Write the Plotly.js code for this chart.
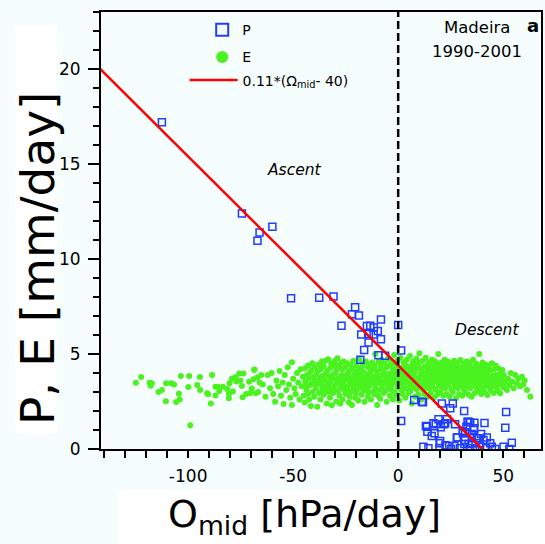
<!DOCTYPE html>
<html><head><meta charset="utf-8">
<script src="https://cdn.plot.ly/plotly-3.0.1.min.js"></script>
<style>html,body{margin:0;padding:0;background:#f6fdfd}</style>
</head><body><div id="chart" style="width:545px;height:544px"></div>
<script>
// ---- P (precipitation) points ----
const pX = [-112.5,-74.4,-66.0,-67.0,-59.9,
  -51.0,-37.6,-30.8,-20.5,-22.0,-18.7,-27.0,-8.2,0.0,-14.9,-13.3,-11.6,-9.7,-17.6,-14.0,-11.7,-8.2,-14.1,-16.2,1.4,-9.4,-6.2,-18.0,
  7.6,11.3,20.8,26.0,24.8,31.4,51.4,1.4,19.2,23.2,13.7,16.8,22.4,20.3,27.1,33.0,34.3,36.3,41.1,51.0,32.5,36.2,
  13.9,17.3,16.0,13.2,30.8,31.9,28.2,30.8,35.1,39.5,37.5,40.6,42.2,35.1,38.2,20.0,19.7,31.9,33.5,35.1,38.7,43.8,54.1,
  12.0,14.4,19.7,24.3,25.2,29.5,34.3,36.7,39.0,41.9,44.6,46.2,50.2,52.9,36.0,33.5,17.9,21.9,27.9,31.5,26.8,22.5,11.8];
const pY = [17.2,12.4,11.4,10.96,11.7,
  7.93,7.96,8.02,7.46,7.09,7.02,6.49,6.82,6.53,6.47,6.49,6.39,6.21,6.02,6.05,6.02,5.77,5.61,5.21,5.18,4.93,4.91,4.7,
  2.58,2.49,2.4,2.4,2.14,2.0,1.95,1.47,1.56,1.56,1.17,1.35,1.35,1.14,1.3,1.44,1.39,1.38,1.37,1.12,1.17,1.09,
  0.91,0.83,0.68,1.21,0.96,0.88,0.61,0.83,0.79,0.79,0.56,0.47,0.61,0.56,0.56,0.42,0.3,0.47,0.26,0.3,0.3,0.3,0.33,
  0.12,0.04,0.04,0.16,0.0,0.04,0.04,0.04,0.12,0.04,0.12,0.0,0.12,0.0,1.0,1.44,1.3,1.3,0.61,0.26,0.16,0.2,2.46];

// ---- E (evaporation) points ----
const eX = [
  -124.9,-122.4,-118.4,-117.3,-117.8,-114.1,-112.5,-110.5,-110.6,-108.1,-106.7,-103.5,-104.4,-104.0,-105.7,-99.5,-99.9,-99.0,-95.7,-94.3,-94.4,-91.0,-90.5,-88.6,-89.2,-87.0,-86.0,-85.2,-87.0,-83.5,-81.4,-80.3,-80.6,-80.6,-78.7,-79.2,-77.6,-75.7,-73.7,-75.2,-77.0,-74.4,-74.1,-72.4,-71.0,-68.9,-68.4,-69.7,-67.8,-67.0,-70.5,-68.6,-66.7,-66.0,-65.2,
  -64.5,-63.2,-62.1,-61.0,-60.3,-59.5,-58.6,-58.0,-57.2,-56.5,-55.8,-55.0,-54.6,-54.0,-53.3,-52.6,-52.0,-51.4,-50.6,-50.6,-50.0,-49.4,-48.8,-48.2,-47.6,-47.0,-46.5,-46.0,-45.4,-45.0,
  -44.5,-43.7,-44.2,-43.4,-44.4,-43.9,
  -43.0,-42.2,-42.7,-41.9,-42.9,-42.4,
  -41.5,-40.7,-41.2,-40.4,-41.4,-40.9,
  -40.0,-39.2,-39.7,-38.9,-39.9,-39.4,
  -38.5,-37.7,-38.2,-37.4,-38.4,-37.9,
  -37.0,-36.2,-36.7,-35.9,-36.9,-36.4,-36.1,
  -35.5,-34.7,-35.2,-34.4,-35.4,-34.9,-34.6,
  -34.0,-33.2,-33.7,-32.9,-33.9,-33.4,-33.1,
  -32.5,-31.7,-32.2,-31.4,-32.4,-31.9,-31.6,
  -31.0,-30.2,-30.7,-29.9,-30.9,-30.4,-30.1,
  -29.5,-28.7,-29.2,-28.4,-29.4,-28.9,-28.6,-29.0,
  -28.0,-27.2,-27.7,-26.9,-27.9,-27.4,-27.1,-27.6,
  -26.5,-25.7,-26.2,-25.4,-26.4,-25.9,-25.6,-26.1,
  -25.0,-24.2,-24.7,-23.9,-24.9,-24.4,-24.1,-24.6,
  -23.5,-22.7,-23.2,-22.4,-23.4,-22.9,-22.6,-23.1,
  -22.0,-21.2,-21.7,-20.9,-21.9,-21.4,-21.1,-21.6,
  -20.5,-19.7,-20.2,-19.4,-20.4,-19.9,-19.6,-20.1,
  -19.0,-18.2,-18.7,-17.9,-18.9,-18.4,-18.1,-18.6,
  -17.5,-16.7,-17.2,-16.4,-17.4,-16.9,-16.6,-17.1,
  -16.0,-15.2,-15.7,-14.9,-15.9,-15.4,-15.1,-15.6,
  -14.5,-13.7,-14.2,-13.4,-14.4,-13.9,-13.6,-14.1,
  -13.0,-12.2,-12.7,-11.9,-12.9,-12.4,-12.1,-12.6,
  -11.5,-10.7,-11.2,-10.4,-11.4,-10.9,-10.6,-11.1,
  -10.0,-9.2,-9.7,-8.9,-9.9,-9.4,-9.1,-9.6,
  -8.5,-7.7,-8.2,-7.4,-8.4,-7.9,-7.6,-8.1,
  -7.0,-6.2,-6.7,-5.9,-6.9,-6.4,-6.1,-6.6,
  -5.5,-4.7,-5.2,-4.4,-5.4,-4.9,-4.6,-5.1,
  -4.0,-3.2,-3.7,-2.9,-3.9,-3.4,-3.1,-3.6,
  -2.5,-1.7,-2.2,-1.4,-2.4,-1.9,-1.6,-2.1,
  -1.0,-0.2,-0.7,0.1,-0.9,-0.4,-0.1,-0.6,
  0.5,1.3,0.8,1.6,0.6,1.1,1.4,0.9,
  2.0,2.8,2.3,3.1,2.1,2.6,2.9,2.4,
  3.5,4.3,3.8,4.6,3.6,4.1,4.4,3.9,
  5.0,5.8,5.3,6.1,5.1,5.6,5.9,5.4,
  6.5,7.3,6.8,7.6,6.6,7.1,7.4,6.9,
  8.0,8.8,8.3,9.1,8.1,8.6,8.9,8.4,
  9.5,10.3,9.8,10.6,9.6,10.1,10.4,9.9,
  11.0,11.8,11.3,12.1,11.1,11.6,11.9,11.4,
  12.5,13.3,12.8,13.6,12.6,13.1,13.4,12.9,
  14.0,14.8,14.3,15.1,14.1,14.6,14.9,14.4,
  15.5,16.3,15.8,16.6,15.6,16.1,16.4,15.9,
  17.0,17.8,17.3,18.1,17.1,17.6,17.9,17.4,
  18.5,19.3,18.8,19.6,18.6,19.1,19.4,18.9,
  20.0,20.8,20.3,21.1,20.1,20.6,20.9,20.4,
  21.5,22.3,21.8,22.6,21.6,22.1,22.4,21.9,
  23.0,23.8,23.3,24.1,23.1,23.6,23.9,23.4,
  24.5,25.3,24.8,25.6,24.6,25.1,25.4,24.9,
  26.0,26.8,26.3,27.1,26.1,26.6,26.9,26.4,
  27.5,28.3,27.8,28.6,27.6,28.1,28.4,27.9,
  29.0,29.8,29.3,30.1,29.1,29.6,29.9,29.4,
  30.5,31.3,30.8,31.6,30.6,31.1,31.4,30.9,
  32.0,32.8,32.3,33.1,32.1,32.6,32.9,32.4,
  33.5,34.3,33.8,34.6,33.6,34.1,34.4,33.9,
  35.0,35.8,35.3,36.1,35.1,35.6,35.9,35.4,
  36.5,37.3,36.8,37.6,36.6,37.1,37.4,36.9,
  38.0,38.8,38.3,39.1,38.1,38.6,38.9,38.4,
  39.5,40.3,39.8,40.6,39.6,40.1,40.4,39.9,
  41.0,41.8,41.3,42.1,41.1,41.6,41.9,41.4,
  42.5,43.3,42.8,43.6,42.6,43.1,43.4,42.9,
  44.0,44.8,44.3,45.1,44.1,44.6,44.9,
  45.5,46.3,45.8,46.6,45.6,46.1,46.4,
  47.0,47.8,47.3,48.1,47.6,47.4,
  48.5,49.3,48.8,49.6,49.1,
  50.0,50.8,50.3,51.1,
  51.8,52.3,53.0,53.6,54.2,55.0,55.7,56.5,57.2,58.0,58.9,59.5,60.2,61.3,62.9];
const eY = [
  3.49,3.79,3.49,3.46,3.33,3.0,3.1,3.46,2.51,3.46,3.4,3.84,2.91,2.61,2.47,3.84,3.26,1.25,3.37,3.1,3.79,2.93,2.88,3.89,2.4,3.28,3.28,3.05,2.81,3.28,3.16,3.46,2.89,2.67,3.02,3.7,3.77,3.98,3.98,3.6,3.55,3.32,2.72,2.89,3.54,3.67,4.19,3.19,2.93,3.78,2.93,4.16,3.0,3.5,3.9,
  3.4,2.75,3.9,3.2,4.0,2.9,2.49,3.6,3.3,4.1,2.8,3.5,2.37,3.9,3.1,4.3,3.4,2.7,4.56,2.32,3.7,3.2,2.9,4.0,3.5,2.6,4.2,3.3,3.8,2.8,
  2.45,3.1,3.55,3.9,4.25,3.3,
  2.9,3.35,3.7,4.05,4.4,2.6,
  2.26,3.0,3.45,3.8,4.15,4.51,
  2.75,3.2,3.6,3.95,4.3,3.4,
  2.23,2.95,3.5,3.75,4.1,4.45,
  2.6,3.15,3.4,3.85,4.2,4.6,3.6,
  2.85,3.3,3.65,3.95,4.35,3.05,4.65,
  2.4,3.0,3.5,3.8,4.1,4.72,3.3,
  2.7,3.2,3.55,3.9,4.25,4.5,2.3,
  2.95,3.35,3.7,4.0,4.4,3.1,4.65,
  2.5,3.05,3.45,3.75,4.15,4.77,3.6,4.4,
  2.8,3.25,3.6,3.9,4.3,3.4,4.55,2.4,
  2.6,3.1,3.5,3.85,4.2,4.6,3.7,3.3,
  2.9,3.3,3.65,4.0,4.35,4.51,3.15,3.85,
  2.45,3.0,3.4,3.75,4.1,4.45,3.55,2.75,
  2.32,3.2,3.6,3.95,4.25,4.65,3.35,3.8,
  2.7,3.1,3.45,3.7,4.05,4.4,3.9,2.95,
  2.55,3.25,3.6,3.85,4.2,4.72,3.4,4.0,
  2.85,3.05,3.5,3.8,4.15,4.5,3.65,4.35,
  2.49,3.15,3.4,3.75,4.0,4.6,3.9,3.25,
  2.75,3.3,3.55,3.95,4.3,4.45,3.7,3.0,
  2.6,3.0,3.45,3.8,4.1,4.55,3.6,4.3,
  2.9,3.2,3.65,3.9,4.2,5.0,3.4,4.4,
  2.32,3.1,3.5,3.75,4.05,4.6,3.85,2.8,
  2.65,3.25,3.55,3.9,4.25,4.7,3.35,4.45,
  2.95,3.05,3.45,3.8,4.15,4.5,3.65,4.0,
  2.49,3.2,3.6,3.95,4.3,4.75,3.4,3.85,
  2.8,3.35,3.7,4.0,4.4,4.6,3.1,3.55,
  2.6,3.0,3.5,3.85,4.2,4.95,3.75,4.5,
  2.85,3.25,3.6,3.9,4.1,4.65,3.4,4.35,
  2.55,3.1,3.45,3.8,4.25,4.8,3.65,4.0,
  2.9,3.3,3.55,3.95,4.3,4.55,3.75,3.15,
  2.7,3.2,3.5,3.85,4.15,4.7,3.6,4.4,
  2.95,3.05,3.65,3.9,4.25,4.9,3.4,4.05,
  2.4,3.25,3.55,3.8,4.2,4.6,3.95,4.45,
  2.75,3.15,3.45,3.75,4.1,4.75,3.6,4.35,
  2.85,3.3,3.7,3.95,4.3,5.04,3.5,4.55,
  2.6,3.1,3.55,3.85,4.2,4.65,3.35,4.0,
  2.9,3.35,3.65,4.05,4.35,4.8,3.8,3.2,
  2.75,3.2,3.5,3.9,4.25,4.55,3.65,4.4,
  2.95,3.3,3.6,3.8,4.15,4.7,3.45,4.5,
  2.7,3.15,3.55,3.95,4.3,4.6,3.75,4.05,
  2.85,3.35,3.7,3.9,4.2,5.0,3.5,4.45,
  3.0,3.25,3.6,3.85,4.25,4.55,3.4,4.0,
  2.8,3.2,3.5,3.8,4.1,4.7,3.65,4.4,
  2.9,3.35,3.65,3.95,4.3,4.6,3.45,4.05,
  2.75,3.15,3.55,3.85,4.2,4.5,3.7,4.4,
  3.0,3.3,3.6,3.9,4.15,4.65,3.45,4.35,
  2.67,3.2,3.5,3.8,4.25,4.55,3.65,4.0,
  2.9,3.35,3.7,3.95,4.3,4.68,3.55,4.1,
  2.8,3.15,3.45,3.85,4.2,4.5,3.65,4.35,
  3.0,3.3,3.6,3.9,4.15,4.6,3.4,4.4,
  2.85,3.2,3.55,3.8,4.1,4.55,3.7,4.3,
  2.75,3.35,3.65,3.95,4.25,4.7,3.5,4.05,
  2.95,3.25,3.5,3.85,4.2,4.5,3.7,4.4,
  3.05,3.4,3.6,3.9,4.15,5.0,3.3,4.35,
  2.9,3.2,3.55,3.8,4.1,4.55,3.65,4.3,
  3.0,3.35,3.6,3.9,4.2,4.45,3.45,4.0,
  2.84,3.25,3.5,3.75,4.05,4.4,3.65,4.25,
  3.1,3.3,3.6,3.85,4.15,4.51,3.45,
  2.95,3.35,3.65,3.9,4.2,3.5,4.4,
  3.2,3.45,3.7,3.95,4.25,3.05,
  2.93,3.4,3.75,4.16,3.55,
  3.25,3.6,3.9,3.45,
  3.1,3.7,3.35,4.0,3.55,3.2,3.89,3.46,3.7,3.3,3.8,3.4,3.6,3.1,2.75];

// ---- fitted line 0.11*(40 - Omega) ----
const fitSlope = 0.11, fitZero = 40;
const fitX = [-150, fitZero];
const fitY = fitX.map(x => fitSlope * (fitZero - x));

// ---- axis ticks / texts ----
const xTickVals = [-100, -50, 0, 50];
const xTickText = ['-100', '-50', '0', '50'];
const yTickVals = [0, 5, 10, 15, 20];
const xTitle = 'O<sub>mid</sub> [hPa/day]';
const yTitle = 'P, E [mm/day]';

const FONT = 'DejaVu Sans, Arial, sans-serif';
const BG = '#f6fdfd';

const traces = [
  {x: eX, y: eY, type: 'scatter', mode: 'markers', name: 'E', legendgroup: 'e', legendrank: 2,
   marker: {symbol: 'circle', size: 6, color: '#4af21f'}},
  {x: pX, y: pY, type: 'scatter', mode: 'markers', name: 'P', legendgroup: 'p', legendrank: 1,
   marker: {symbol: 'square-open', size: 7, color: '#1f3cff', line: {width: 1.5, color: '#1f3cff'}}},
  {x: fitX, y: fitY, type: 'scatter', mode: 'lines', name: '0.11*(Ω<sub>mid</sub>- 40)', legend: 'legend2',
   line: {color: '#ff0000', width: 2.5}}
];

const layout = {
  width: 545, height: 544,
  margin: {l: 101, r: 4, t: 12, b: 95},
  paper_bgcolor: BG, plot_bgcolor: BG,
  font: {family: FONT, color: '#000'},
  showlegend: true,
  legend: {x: 0.23, y: 0.995, xanchor: 'left', yanchor: 'top', bgcolor: 'rgba(0,0,0,0)',
           font: {size: 14, family: FONT}, itemsizing: 'constant', tracegroupgap: 6, traceorder: 'grouped'},
  legend2: {x: 0.19, y: 0.88, xanchor: 'left', yanchor: 'top', bgcolor: 'rgba(0,0,0,0)',
           font: {size: 14, family: FONT}, itemsizing: 'trace', itemwidth: 48},
  xaxis: {range: [-141.5, 68], showline: true, mirror: true, linewidth: 2, linecolor: '#000',
          showgrid: false, zeroline: false,
          tickmode: 'array', tickvals: xTickVals, ticktext: xTickText,
          ticks: 'outside', ticklen: 7, tickwidth: 1.5, tickcolor: '#000',
          ticklabelstandoff: 4,
          minor: {tickmode: 'linear', tick0: 0, dtick: 10, ticks: 'outside', ticklen: 7, tickwidth: 1.5, tickcolor: '#000', showgrid: false},
          tickfont: {size: 17, family: FONT}},
  yaxis: {range: [0, 23], showline: true, mirror: true, linewidth: 2, linecolor: '#000',
          showgrid: false, zeroline: false,
          tickmode: 'array', tickvals: yTickVals,
          ticks: 'outside', ticklen: 11, tickwidth: 1.5, tickcolor: '#000',
          ticklabelstandoff: 4,
          minor: {tickmode: 'linear', tick0: 0, dtick: 1, ticks: 'outside', ticklen: 6, tickwidth: 1.5, tickcolor: '#000', showgrid: false},
          tickfont: {size: 17, family: FONT}},
  shapes: [
    {type: 'rect', xref: 'paper', yref: 'paper', x0: -0.196, x1: -0.1, y0: 0.035, y1: 0.97,
     fillcolor: '#ffffff', line: {width: 0}, layer: 'below'},
    {type: 'rect', xref: 'paper', yref: 'paper', x0: 0.0386, x1: 1.01, y0: -0.2174, y1: -0.0938,
     fillcolor: '#ffffff', line: {width: 0}, layer: 'below'},
    {type: 'line', xref: 'x', yref: 'paper', x0: 0, x1: 0, y0: 0, y1: 1,
     line: {color: '#000', width: 2.5, dash: '8px,4px'}}
  ],
  annotations: [
    {xref: 'paper', yref: 'paper', x: 0.4636, y: -0.155, text: xTitle, showarrow: false,
     font: {size: 38, family: FONT}, xanchor: 'center', yanchor: 'middle'},
    {xref: 'paper', yref: 'paper', x: -0.143, y: 0.435, text: yTitle, showarrow: false, textangle: -90,
     font: {size: 47, family: FONT}, xanchor: 'center', yanchor: 'middle'},
    {xref: 'paper', yref: 'paper', x: 0.8545, y: 0.9634, text: 'Madeira', showarrow: false,
     font: {size: 16.5, family: FONT}, xanchor: 'center', yanchor: 'middle'},
    {xref: 'paper', yref: 'paper', x: 0.8545, y: 0.9085, text: '1990-2001', showarrow: false,
     font: {size: 16.5, family: FONT}, xanchor: 'center', yanchor: 'middle'},
    {xref: 'paper', yref: 'paper', x: 0.982, y: 0.968, text: '<b>a</b>', showarrow: false,
     font: {size: 18, family: FONT}, xanchor: 'center', yanchor: 'middle'},
    {xref: 'x', yref: 'y', x: -49.5, y: 14.7, text: '<i>Ascent</i>', showarrow: false,
     font: {size: 15.5, family: FONT}},
    {xref: 'x', yref: 'y', x: 42.4, y: 6.26, text: '<i>Descent</i>', showarrow: false,
     font: {size: 15.5, family: FONT}}
  ]
};

Plotly.newPlot('chart', traces, layout, {displayModeBar: false, staticPlot: true});
</script></body></html>
